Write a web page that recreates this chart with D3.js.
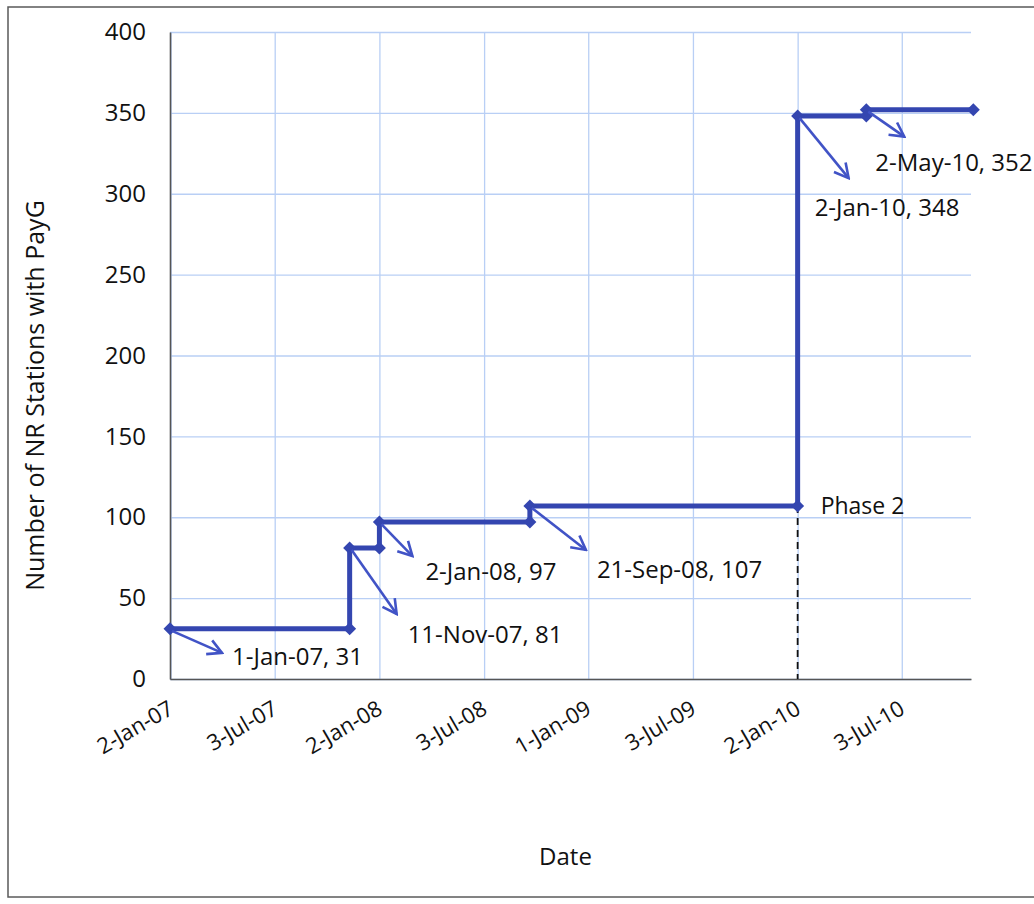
<!DOCTYPE html>
<html lang="en">
<head>
<meta charset="UTF-8">
<title>NR Stations with PayG</title>
<script src="https://cdnjs.cloudflare.com/ajax/libs/d3/7.8.5/d3.min.js"></script>
<style>
  * { margin: 0; padding: 0; box-sizing: border-box; }
  body { background: #ffffff; width: 1034px; height: 904px; overflow: hidden; }
  svg text { font-family: "Open Sans", "DejaVu Sans", sans-serif; fill: #111; }
</style>
</head>
<body>
<div id="chart"></div>
<script>
  // data
  const stepDates = ["1-Jan-07", "11-Nov-07", "11-Nov-07", "2-Jan-08", "2-Jan-08", "21-Sep-08",
                     "21-Sep-08", "2-Jan-10", "2-Jan-10", "2-May-10", "2-May-10", "5-Nov-10"];
  const stepValues = [31, 31, 81, 81, 97, 97, 107, 107, 348, 348, 352, 352];

  const tickDates = ["2-Jan-07", "3-Jul-07", "2-Jan-08", "3-Jul-08", "1-Jan-09", "3-Jul-09", "2-Jan-10", "3-Jul-10"];
  const yTicks = [0, 50, 100, 150, 200, 250, 300, 350, 400];

  const noteDates = ["1-Jan-07", "11-Nov-07", "2-Jan-08", "21-Sep-08", "2-Jan-10", "2-May-10"];
  const noteValues = [31, 81, 97, 107, 348, 352];
  const phaseDate = "2-Jan-10";
  const phaseValue = 107;
  const phaseLabel = "Phase 2";

  const xDomain = ["1-Jan-07", "1-Nov-10"];

  const width = 1034, height = 904;
  const plot = {left: 170, right: 971, top: 32, bottom: 679};
  const blue = "#3446b0";
  const arrowBlue = "#4153c6";
  const gridBlue = "#b9cff5";

  const parse = d3.timeParse("%d-%b-%y");

  const svg = d3.select("#chart").append("svg")
      .attr("width", width)
      .attr("height", height);

  svg.append("defs").append("marker")
      .attr("id", "arrow")
      .attr("markerUnits", "userSpaceOnUse")
      .attr("viewBox", "-16 -9 18 18")
      .attr("markerWidth", 18)
      .attr("markerHeight", 18)
      .attr("refX", 0)
      .attr("refY", 0)
      .attr("orient", "auto")
      .append("path")
      .attr("d", "M-14,-7.5 L0,0 L-14,7.5")
      .attr("fill", "none")
      .attr("stroke", arrowBlue)
      .attr("stroke-width", 2.6)
      .attr("stroke-linejoin", "miter");

  // outer frame
  svg.append("rect")
      .attr("x", 8).attr("y", 7)
      .attr("width", 1040).attr("height", 890)
      .attr("fill", "none")
      .attr("stroke", "#5a5a5a")
      .attr("stroke-width", 1.5);

  const x = d3.scaleTime()
      .domain(xDomain.map(parse))
      .range([plot.left, plot.right]);
  const y = d3.scaleLinear()
      .domain([0, 400])
      .range([plot.bottom, plot.top]);

  // gridlines
  svg.append("g").attr("class", "y-grid")
      .attr("transform", `translate(${plot.left},0)`)
      .call(d3.axisLeft(y).tickValues(yTicks).tickSize(-(plot.right - plot.left)).tickFormat(""))
      .call(g => g.select(".domain").remove())
      .call(g => g.selectAll("line").attr("stroke", gridBlue).attr("stroke-width", 1.3));

  svg.append("g").attr("class", "x-grid")
      .attr("transform", `translate(0,${plot.bottom})`)
      .call(d3.axisBottom(x).tickValues(tickDates.map(parse)).tickSize(-(plot.bottom - plot.top)).tickFormat(""))
      .call(g => g.select(".domain").remove())
      .call(g => g.selectAll("line").attr("stroke", gridBlue).attr("stroke-width", 1.3));

  // axes
  const yAxis = svg.append("g")
      .attr("transform", `translate(${plot.left},0)`)
      .call(d3.axisLeft(y).tickValues(yTicks).tickSize(0).tickPadding(24));
  yAxis.select(".domain").attr("stroke", "#555").attr("stroke-width", 1.6);
  yAxis.selectAll("text").attr("font-size", 24).attr("fill", "#111");

  const xFormat = d3.timeFormat("%-d-%b-%y");
  const xAxis = svg.append("g")
      .attr("transform", `translate(0,${plot.bottom})`)
      .call(d3.axisBottom(x).tickValues(tickDates.map(parse)).tickSize(0).tickFormat(xFormat));
  xAxis.select(".domain").attr("stroke", "#555").attr("stroke-width", 1.6);
  xAxis.selectAll("text")
      .attr("font-size", 22)
      .attr("fill", "#111")
      .attr("text-anchor", "end")
      .attr("dy", null)
      .attr("y", 0)
      .attr("transform", "translate(4,34) rotate(-30)");

  // axis titles
  svg.append("text")
      .attr("transform", `translate(44,${(plot.top + plot.bottom) / 2 + 40}) rotate(-90)`)
      .attr("text-anchor", "middle")
      .attr("font-size", 25)
      .text("Number of NR Stations with PayG");

  svg.append("text")
      .attr("x", (plot.left + plot.right) / 2 - 5)
      .attr("y", 865)
      .attr("text-anchor", "middle")
      .attr("font-size", 24)
      .text("Date");

  // Phase 2 dashed drop line
  svg.append("line")
      .attr("x1", x(parse(phaseDate))).attr("x2", x(parse(phaseDate)))
      .attr("y1", y(phaseValue)).attr("y2", y(0))
      .attr("stroke", "#111")
      .attr("stroke-width", 1.8)
      .attr("stroke-dasharray", "7,5");

  // step series
  const series = stepDates.map((d, i) => ({date: parse(d), value: stepValues[i]}));
  const line = d3.line().x(d => x(d.date)).y(d => y(d.value));

  svg.append("path")
      .datum(series)
      .attr("d", line)
      .attr("fill", "none")
      .attr("stroke", blue)
      .attr("stroke-width", 5)
      .attr("stroke-linejoin", "miter");

  svg.selectAll(".pt")
      .data(series)
      .enter().append("path")
      .attr("class", "pt")
      .attr("transform", d => `translate(${x(d.date)},${y(d.value)})`)
      .attr("d", "M0,-6.5 L6.5,0 L0,6.5 L-6.5,0Z")
      .attr("fill", blue);

  // data labels with arrows (offsets in pixels from the point)
  const arrowOffsets = [[52, 24], [47, 66], [33, 34], [56, 44], [51, 62], [38, 27]];
  const labelOffsets = [[62, 36], [58, 95], [46, 58], [67, 72], [17, 100], [9, 61]];

  noteDates.forEach((d, i) => {
    const px = x(parse(d)), py = y(noteValues[i]);
    svg.append("line")
        .attr("x1", px + 2).attr("y1", py + 2)
        .attr("x2", px + arrowOffsets[i][0]).attr("y2", py + arrowOffsets[i][1])
        .attr("stroke", arrowBlue)
        .attr("stroke-width", 2.6)
        .attr("marker-end", "url(#arrow)");
    svg.append("text")
        .attr("x", px + labelOffsets[i][0])
        .attr("y", py + labelOffsets[i][1])
        .attr("font-size", 24)
        .text(`${d}, ${noteValues[i]}`);
  });

  svg.append("text")
      .attr("x", x(parse(phaseDate)) + 23)
      .attr("y", y(phaseValue) + 8)
      .attr("font-size", 23)
      .text(phaseLabel);
</script>
</body>
</html>
